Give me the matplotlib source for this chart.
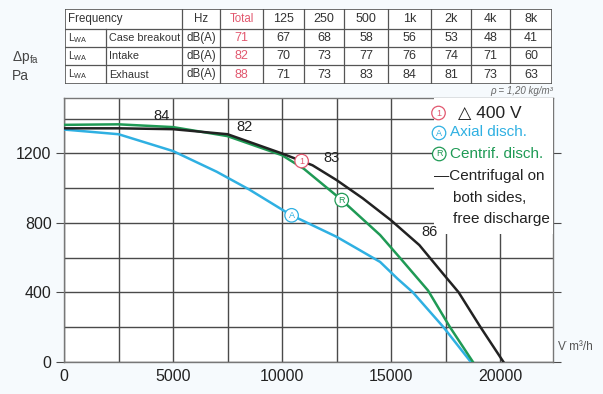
import numpy as np
import matplotlib.pyplot as plt
from matplotlib.patches import Rectangle

plt.rcParams["mathtext.fontset"] = "custom"
plt.rcParams["mathtext.rm"] = "Liberation Sans"
plt.rcParams["mathtext.it"] = "Liberation Sans:italic"

# --- data ---
freq_labels = ["125", "250", "500", "1k", "2k", "4k", "8k"]
row_names = ["Case breakout", "Intake", "Exhaust"]
row_totals = [71, 82, 88]
row_values = [
    [67, 68, 58, 56, 53, 48, 41],
    [70, 73, 77, 76, 74, 71, 60],
    [71, 73, 83, 84, 81, 73, 63],
]

# centrifugal on both sides, free discharge (black)
black_q = [0, 2500, 5000, 7500, 10000, 11400, 12500, 13700, 15000, 16300, 17400, 18100, 19100, 20150]
black_p = [1345, 1345, 1340, 1311, 1200, 1132, 1047, 942, 815, 672, 505, 400, 200, 0]
# centrifugal discharge (green)
green_q = [0, 2500, 5000, 7500, 10000, 11000, 12700, 14500, 15400, 16700, 17700, 18750]
green_p = [1365, 1368, 1352, 1300, 1190, 1112, 936, 730, 600, 410, 200, 0]
# axial discharge (blue)
blue_q = [0, 2500, 5000, 7000, 8500, 10400, 12500, 13400, 14500, 15300, 16000, 17400, 18650]
blue_p = [1338, 1311, 1214, 1095, 992, 846, 720, 655, 575, 478, 400, 200, 0]

# sound level labels along the curves
level_labels = ["84", "82", "83", "86"]
level_q = [4450, 8300, 12280, 16760]
level_p = [1418, 1354, 1176, 749]

BLACK = "#222222"
GREEN = "#1f9a55"
BLUE = "#2fb0e2"
RED = "#e2586f"
GRID = "#4a4a4a"

W, H = 603, 394
fig = plt.figure(figsize=(W / 100, H / 100), dpi=100, facecolor="#f6fafd")

plain = ["Liberation Sans", "DejaVu Sans"]


def fx(x):
    return x / W


def fy(y):
    return 1 - y / H


# --- main plot ---
left, right, top, bottom = 64, 553, 98.3, 361.7
ax = fig.add_axes([fx(left), fy(bottom), (right - left) / W, (bottom - top) / H])
ax.set_facecolor("white")
ax.set_xlim(0, 22430)
ax.set_ylim(0, 1518)
ax.set_xticks(np.arange(0, 22430, 2500), minor=True)
ax.set_xticks([0, 5000, 10000, 15000, 20000])
ax.set_yticks(np.arange(0, 1518, 200), minor=True)
ax.set_yticks([0, 400, 800, 1200])
ax.grid(True, which="both", color=GRID, lw=1.0)
for s in ax.spines.values():
    s.set_color("#777777")
    s.set_linewidth(1.0)
ax.tick_params(which="major", axis="y", length=6, color=GRID, labelsize=11.5, pad=3)
ax.tick_params(which="major", axis="x", length=0, labelsize=11.5, pad=5)
ax.tick_params(which="minor", length=0)
ax.tick_params(which="both", axis="y", right=True, direction="out")
for lab in ax.get_xticklabels() + ax.get_yticklabels():
    lab.set_family(plain)
    lab.set_color("#222222")

ax.plot(blue_q, blue_p, color=BLUE, lw=1.8, zorder=3)
ax.plot(green_q, green_p, color=GREEN, lw=1.8, zorder=3)
ax.plot(black_q, black_p, color=BLACK, lw=1.8, zorder=3)

# circled curve markers
marks = [("1", 10900, black_q, black_p, RED),
         ("A", 10440, blue_q, blue_p, BLUE),
         ("R", 12740, green_q, green_p, GREEN)]
for t, q, qs, ps, c in marks:
    ax.text(q, np.interp(q, qs, ps), t, color=c, fontsize=6.5, ha="center", va="center",
            family=plain, zorder=5,
            bbox=dict(boxstyle="circle,pad=0.25", fc="white", ec=c, lw=0.9))

for t, q, p in zip(level_labels, level_q, level_p):
    ax.text(q, p, t, fontsize=10.5, ha="center", va="center", color="#222222",
            family=plain, zorder=5)

# white legend panel over the grid
ax.add_patch(Rectangle((16970, 735), 22430 - 16970, 1518 - 735, fc="white", ec="none", zorder=2.6))

# legend texts
LS = 11
fig.text(fx(436), fy(113), "1", color=RED, fontsize=6.5, family=plain, ha="left", va="center",
         bbox=dict(boxstyle="circle,pad=0.25", fc="white", ec=RED, lw=0.9))
fig.text(fx(458), fy(113), "\u25b3 400 V", color="#222222", fontsize=12.5, family=plain,
         ha="left", va="center")
fig.text(fx(436), fy(133), "A", color=BLUE, fontsize=6.5, family=plain, ha="left", va="center",
         bbox=dict(boxstyle="circle,pad=0.25", fc="white", ec=BLUE, lw=0.9))
fig.text(fx(450), fy(132), "Axial disch.", color=BLUE, fontsize=LS, family=plain,
         ha="left", va="center")
fig.text(fx(436), fy(154), "R", color=GREEN, fontsize=6.5, family=plain, ha="left", va="center",
         bbox=dict(boxstyle="circle,pad=0.25", fc="white", ec=GREEN, lw=0.9))
fig.text(fx(450), fy(154), "Centrif. disch.", color=GREEN, fontsize=LS, family=plain,
         ha="left", va="center")
fig.text(fx(434), fy(176), "\u2014Centrifugal on", color="#222222", fontsize=LS, family=plain,
         ha="left", va="center")
fig.text(fx(453), fy(198), "both sides,", color="#222222", fontsize=LS, family=plain,
         ha="left", va="center")
fig.text(fx(453), fy(219), "free discharge", color="#222222", fontsize=LS, family=plain,
         ha="left", va="center")

# axis labels
fig.text(fx(12), fy(57), "\u0394p$_{\\mathrm{fa}}$", fontsize=10, color="#444444", family=plain,
         ha="left", va="center")
fig.text(fx(12), fy(76), "Pa", fontsize=10, color="#444444", family=plain, ha="left", va="center")
fig.text(fx(558), fy(347), "V\u0307 m\u00b3/h", fontsize=8.5, color="#555555", family=plain,
         ha="left", va="center")
fig.text(fx(553), fy(91), "\u03c1 = 1,20 kg/m\u00b3", fontsize=7, color="#666666", family=plain,
         ha="right", va="center", style="italic")

# --- sound table ---
col_edges = [65, 106, 182, 220, 263, 304, 344, 388, 431, 471, 510, 552]
row_edges = [9.3, 29, 47, 65, 84]
tax = fig.add_axes([fx(col_edges[0]), fy(row_edges[-1]),
                    (col_edges[-1] - col_edges[0]) / W, (row_edges[-1] - row_edges[0]) / H])
tax.set_xlim(col_edges[0], col_edges[-1])
tax.set_ylim(row_edges[-1], row_edges[0])
tax.axis("off")
tax.add_patch(Rectangle((col_edges[0], row_edges[0]), col_edges[-1] - col_edges[0],
                        row_edges[-1] - row_edges[0], fc="white", ec="#555555", lw=1.2))
for y in row_edges[1:-1]:
    tax.plot([col_edges[0], col_edges[-1]], [y, y], color="#555555", lw=0.9)
tax.plot([col_edges[1]] * 2, [row_edges[1], row_edges[-1]], color="#555555", lw=0.9)
for x in col_edges[2:-1]:
    tax.plot([x, x], [row_edges[0], row_edges[-1]], color="#555555", lw=0.9)

TXT = "#333333"
TS = 8.3


def cell(ci, ri, s, color=TXT, ha="center", size=TS):
    x = (col_edges[ci] + col_edges[ci + 1]) / 2 if ha == "center" else col_edges[ci] + 3
    y = (row_edges[ri] + row_edges[ri + 1]) / 2
    tax.text(x, y, s, color=color, fontsize=size, family=plain, ha=ha, va="center")


cell(0, 0, "Frequency", ha="left")
cell(2, 0, "Hz")
cell(3, 0, "Total", color=RED)
for i, f in enumerate(freq_labels):
    cell(4 + i, 0, f, size=9)
for r, name in enumerate(row_names):
    cell(0, r + 1, "L$_{\\mathrm{WA}}$", ha="left", size=7.5)
    cell(1, r + 1, name, ha="left", size=7.8)
    cell(2, r + 1, "dB(A)")
    cell(3, r + 1, str(row_totals[r]), color=RED, size=9)
    for i, v in enumerate(row_values[r]):
        cell(4 + i, r + 1, str(v), size=9)

fig.savefig("out.png", dpi=100, facecolor=fig.get_facecolor())
